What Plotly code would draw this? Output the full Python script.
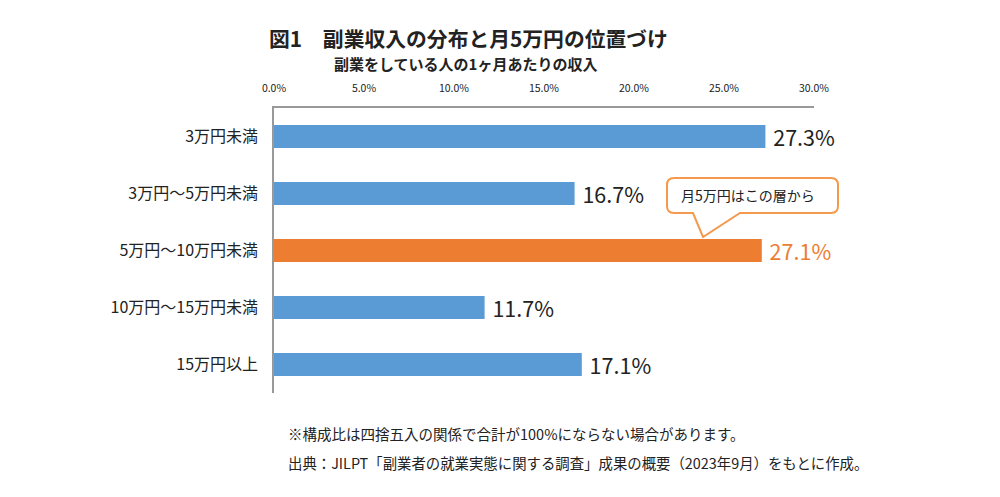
import plotly.graph_objects as go

categories = ["3万円未満", "3万円～5万円未満", "5万円～10万円未満", "10万円～15万円未満", "15万円以上"]
values = [27.3, 16.7, 27.1, 11.7, 17.1]
highlight = "5万円～10万円未満"
tick_vals = [0, 5, 10, 15, 20, 25, 30]
tick_text = ["0.0%", "5.0%", "10.0%", "15.0%", "20.0%", "25.0%", "30.0%"]

title = "図1　副業収入の分布と月5万円の位置づけ"
subtitle = "副業をしている人の1ヶ月あたりの収入"
callout = "月5万円はこの層から"
note1 = "※構成比は四捨五入の関係で合計が100%にならない場合があります。"
note2 = "出典：JILPT「副業者の就業実態に関する調査」成果の概要（2023年9月）をもとに作成。"

BLUE = "#5B9BD5"
ORANGE = "#ED7D31"
FONT = "Noto Sans CJK JP"

W, H = 1000, 497
OFF = 8  # page body margin
L, R, T, B = 274, 814, 108, 393

def px(X):
    return (X - L) / (R - L)

def py(Y):
    return (B - Y) / (B - T)

colors = [ORANGE if c == highlight else BLUE for c in categories]
label_colors = [ORANGE if c == highlight else "#222222" for c in categories]

fig = go.Figure(go.Bar(
    x=values, y=categories, orientation="h",
    marker=dict(color=colors, line=dict(width=0)),
    text=[f" {v:.1f}%" for v in values],
    textposition="outside",
    constraintext="none",
    textfont=dict(size=21.5, color=label_colors, family=FONT),
    cliponaxis=False,
))

fig.update_layout(
    width=W, height=H,
    margin=dict(l=L - OFF, r=W - R + OFF, t=T - OFF, b=H - B + OFF, pad=0),
    paper_bgcolor="white", plot_bgcolor="white",
    bargap=0.6,
    showlegend=False,
    font=dict(family=FONT, color="#222222"),
    xaxis=dict(
        range=[0, 30], side="top", tickvals=tick_vals, ticktext=tick_text,
        tickfont=dict(size=10.5, color="#222222", family=FONT),
        showgrid=False, zeroline=False, showline=True, linecolor="#999999", linewidth=1.5,
        ticks="", ticklabelstandoff=10,
    ),
    yaxis=dict(
        categoryorder="array", categoryarray=categories, autorange="reversed",
        tickfont=dict(size=16, color="#222222", family=FONT),
        showgrid=False, zeroline=False, showline=True, linecolor="#999999", linewidth=1.5,
        ticks="", ticklabelstandoff=11,
    ),
)

# Callout box with tail
x0, x1, y0, y1, r = 667, 838, 178, 213, 7
pts = [
    ("M", x0 + r, y0), ("L", x1 - r, y0), ("Q", x1, y0, x1, y0 + r),
    ("L", x1, y1 - r), ("Q", x1, y1, x1 - r, y1),
    ("L", 740, y1), ("L", 703, 237), ("L", 693, y1),
    ("L", x0 + r, y1), ("Q", x0, y1, x0, y1 - r),
    ("L", x0, y0 + r), ("Q", x0, y0, x0 + r, y0),
]
path = ""
for p in pts:
    cmd = p[0]
    coords = p[1:]
    parts = []
    for i in range(0, len(coords), 2):
        parts.append(f"{px(coords[i]):.5f},{py(coords[i+1]):.5f}")
    path += cmd + " ".join(parts) + " "
path += "Z"
fig.add_shape(type="path", path=path, xref="paper", yref="paper",
              line=dict(color="#F39A4E", width=2), fillcolor="white", layer="above")

fig.add_annotation(text=callout, x=px(748), y=py(195), xref="paper", yref="paper",
                   showarrow=False, font=dict(size=14, color="#222222", family=FONT),
                   xanchor="center", yanchor="middle")

fig.add_annotation(text=f"<b>{title}</b>", x=px(267), y=py(38), xref="paper", yref="paper",
                   showarrow=False, font=dict(size=20.8, color="#222222", family=FONT),
                   xanchor="left", yanchor="middle")
fig.add_annotation(text=f"<b>{subtitle}</b>", x=px(332), y=py(64), xref="paper", yref="paper",
                   showarrow=False, font=dict(size=15, color="#222222", family=FONT),
                   xanchor="left", yanchor="middle")

fig.add_annotation(text=note1, x=px(286), y=py(433), xref="paper", yref="paper",
                   showarrow=False, font=dict(size=14.5, color="#222222", family=FONT),
                   xanchor="left", yanchor="middle")
fig.add_annotation(text=note2, x=px(286), y=py(462), xref="paper", yref="paper",
                   showarrow=False, font=dict(size=14.4, color="#222222", family=FONT),
                   xanchor="left", yanchor="middle")

fig.write_html("out.html")
